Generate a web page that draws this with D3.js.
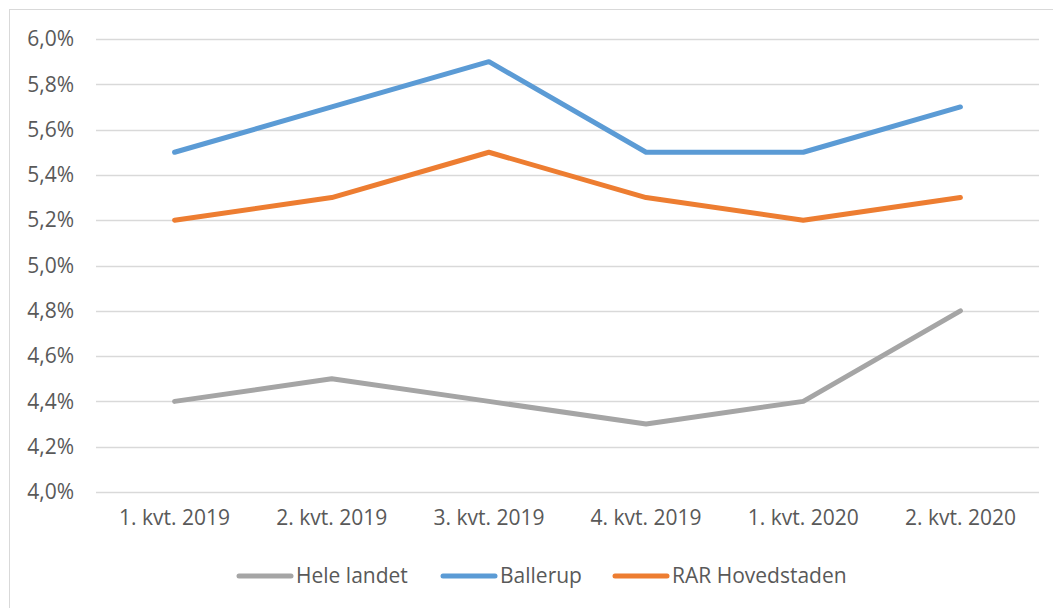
<!DOCTYPE html>
<html>
<head>
<meta charset="utf-8">
<script src="https://cdn.jsdelivr.net/npm/d3@7"></script>
<style>
  body { margin: 0; background: #fff; }
  svg text { font-family: "Open Sans", sans-serif; fill: #595959; }
</style>
</head>
<body>
<div id="chart"></div>
<script>
var categories = ["1. kvt. 2019", "2. kvt. 2019", "3. kvt. 2019", "4. kvt. 2019", "1. kvt. 2020", "2. kvt. 2020"];
var seriesNames = ["Hele landet", "Ballerup", "RAR Hovedstaden"];
var heleLandet = [4.4, 4.5, 4.4, 4.3, 4.4, 4.8];
var ballerup = [5.5, 5.7, 5.9, 5.5, 5.5, 5.7];
var rarHovedstaden = [5.2, 5.3, 5.5, 5.3, 5.2, 5.3];
var yTicks = [4.0, 4.2, 4.4, 4.6, 4.8, 5.0, 5.2, 5.4, 5.6, 5.8, 6.0];
var colors = ["#a5a5a5", "#5b9bd5", "#ed7d31"];

var width = 1053, height = 608;
var margin = {top: 39, right: 14, bottom: 116, left: 96};

var svg = d3.select('#chart').append('svg')
  .attr('width', width)
  .attr('height', height);

// chart border
svg.append('rect')
  .attr('x', 9.5).attr('y', 9.5)
  .attr('width', width).attr('height', height)
  .attr('fill', 'none')
  .attr('stroke', '#d9d9d9')
  .attr('stroke-width', 1);

var x = d3.scaleBand()
  .domain(categories)
  .range([margin.left, width - margin.right]);

var y = d3.scaleLinear()
  .domain([4.0, 6.0])
  .range([height - margin.bottom, margin.top]);

// gridlines
svg.append('g').selectAll('line')
  .data(yTicks)
  .enter().append('line')
  .attr('x1', margin.left).attr('x2', width - margin.right)
  .attr('y1', function (d) { return Math.round(y(d)) + 0.5; })
  .attr('y2', function (d) { return Math.round(y(d)) + 0.5; })
  .attr('stroke', '#d9d9d9')
  .attr('stroke-width', 1.3);

var fmt = function (d) { return d3.format('.1f')(d).replace('.', ',') + '%'; };

var yAxis = svg.append('g')
  .attr('transform', 'translate(' + (margin.left - 22) + ',0)')
  .call(d3.axisLeft(y).tickValues(yTicks).tickFormat(fmt).tickSize(0).tickPadding(0));
yAxis.select('.domain').remove();
yAxis.selectAll('text').attr('font-size', 21).style('font-family', '"Open Sans", sans-serif').attr('fill', '#595959');

var xAxis = svg.append('g')
  .attr('transform', 'translate(0,' + (height - margin.bottom) + ')')
  .call(d3.axisBottom(x).tickSize(0).tickPadding(18));
xAxis.select('.domain').remove();
xAxis.selectAll('text').attr('font-size', 21).style('font-family', '"Open Sans", sans-serif').attr('fill', '#595959');

var line = d3.line()
  .x(function (d, i) { return x(categories[i]) + x.bandwidth() / 2; })
  .y(function (d) { return y(d); });

var allSeries = [heleLandet, ballerup, rarHovedstaden];
svg.append('g').selectAll('path')
  .data(allSeries)
  .enter().append('path')
  .attr('d', line)
  .attr('fill', 'none')
  .attr('stroke', function (d, i) { return colors[i]; })
  .attr('stroke-width', 5)
  .attr('stroke-linejoin', 'round')
  .attr('stroke-linecap', 'round');

// legend
var legendX = [237, 441, 613];
var legend = svg.append('g').selectAll('g')
  .data(seriesNames)
  .enter().append('g')
  .attr('transform', function (d, i) { return 'translate(' + legendX[i] + ',576)'; });
legend.append('line')
  .attr('x1', 2).attr('x2', 54)
  .attr('stroke', function (d, i) { return colors[i]; })
  .attr('stroke-width', 5)
  .attr('stroke-linecap', 'round');
legend.append('text')
  .attr('x', 59)
  .attr('dy', '0.35em')
  .attr('font-size', 21)
  .text(function (d) { return d; });
</script>
</body>
</html>
